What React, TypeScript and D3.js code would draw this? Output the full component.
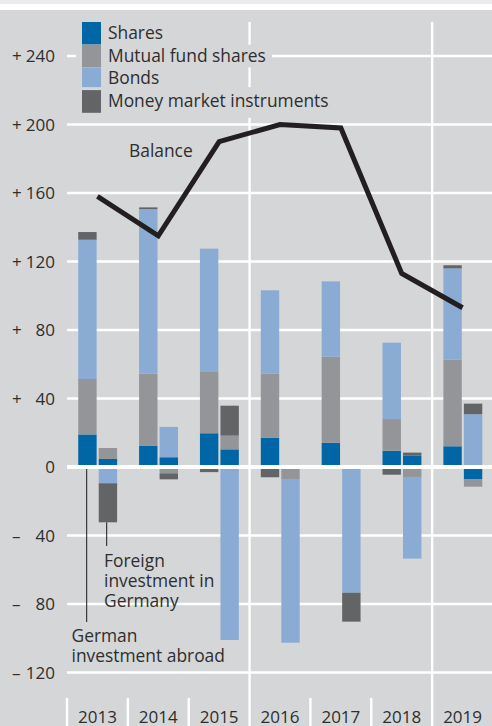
import React from 'react';
import * as d3 from 'd3';

// years on the x axis
const years = ['2013', '2014', '2015', '2016', '2017', '2018', '2019'];

// German investment abroad (left bar of each year), EUR bn
const abroadShares = [19, 12.3, 19.7, 17, 14.2, 9.5, 12.1];
const abroadFunds = [32.4, 42.2, 35.8, 37.5, 50.2, 18.5, 50.6];
const abroadBonds = [81.3, 96.1, 72, 48.7, 44, 44.6, 53.3];
const abroadMoney = [4.5, 1, -3, -6, -1, -4.5, 1.8];

// foreign investment in Germany (right bar of each year)
const foreignShares = [4.7, 5.7, 10.3, 0, 0, 6.6, -7];
const foreignFunds = [6.4, -3.7, 8, -7, -1, -5.8, -4.5];
const foreignBonds = [-9.5, 17.7, -101, -95.6, -72.4, -47.7, 30.8];
const foreignMoney = [-22.8, -3.5, 17.5, 0, -16.9, 1.8, 6.2];

// balance line
const balance = [158, 135, 190, 200, 198, 113, 93];

const yTicks = [-120, -80, -40, 0, 40, 80, 120, 160, 200, 240];

const seriesNames = ['Shares', 'Mutual fund shares', 'Bonds', 'Money market instruments'];
const seriesColors = ['#0066a6', '#939598', '#8aabd3', '#636466'];

const W = 492;
const H = 726;
const BG = '#d5d6d8';
const TEXT = '#2e2e2e';
const FONT = '"Open Sans", "Noto Sans", sans-serif';
const FS = 17.4;

export default function App() {
  const x = d3.scaleBand<string>().domain(years).range([67, 493]).paddingInner(0).paddingOuter(0);
  const y = d3.scaleLinear().domain([-120, 240]).range([672.5, 56]);
  const cx = (yr: string) => (x(yr) as number) + x.bandwidth() / 2;

  const keys = ['s', 'f', 'b', 'm'];
  const makeRows = (a: number[], b: number[], c: number[], d: number[]) =>
    years.map((yr, i) => ({ year: yr, s: a[i], f: b[i], b: c[i], m: d[i] }));
  const stack = d3.stack<any>().keys(keys).offset(d3.stackOffsetDiverging);
  const abroadStack = stack(makeRows(abroadShares, abroadFunds, abroadBonds, abroadMoney));
  const foreignStack = stack(makeRows(foreignShares, foreignFunds, foreignBonds, foreignMoney));

  const barW = 18.4;
  const groups = [
    { data: abroadStack, off: -19.2 },
    { data: foreignStack, off: 1.3 },
  ];

  const line = d3
    .line<number>()
    .x((_, i) => cx(years[i]))
    .y((d) => y(d));

  const legendRows = [
    { y: 22, w: 60 },
    { y: 44.7, w: 164 },
    { y: 67.4, w: 56 },
    { y: 90.1, w: 226 },
  ];

  return (
    <svg width={W} height={H} style={{ position: 'absolute', left: 0, top: 0 }} fontFamily={FONT}>
      <rect x={0} y={0} width={W} height={H} fill="#ffffff" />
      <rect x={0} y={0} width={W} height={4} fill="#ebebed" />
      <rect x={0} y={10} width={W} height={H - 10} fill={BG} />

      {/* horizontal gridlines */}
      {yTicks.map((t) => (
        <line key={t} x1={67} x2={W} y1={y(t)} y2={y(t)} stroke="#fff" strokeWidth={t === 0 ? 0 : 2.6} />
      ))}
      {/* vertical separators */}
      {['2016', '2019'].map((yr) => (
        <line key={yr} x1={x(yr)} x2={x(yr)} y1={22} y2={H} stroke="#fff" strokeWidth={2.4} />
      ))}
      {/* year ticks at the bottom */}
      {['2013', '2014', '2015', '2017', '2018'].map((yr) => (
        <line key={yr} x1={x(yr)} x2={x(yr)} y1={698} y2={H} stroke="#fff" strokeWidth={2.4} />
      ))}

      {/* legend */}
      {legendRows.map((r, i) => (
        <g key={seriesNames[i]}>
          <rect x={76} y={r.y - (i === 3 ? 3 : 0)} width={32 + r.w} height={22.7 + (i === 3 ? 8 : 0)} fill={BG} />
          <rect x={82} y={r.y} width={19} height={22.7} fill={seriesColors[i]} />
          <text x={108} y={r.y + 17} fontSize={FS} fill={TEXT}>
            {seriesNames[i]}
          </text>
        </g>
      ))}

      {/* leader line for German investment abroad */}
      <line x1={86.7} x2={86.7} y1={440} y2={622} stroke="#1a1a1a" strokeWidth={1} />

      {/* bars */}
      {groups.map((g, gi) =>
        g.data.map((layer, li) =>
          layer.map((d, i) => {
            const y0 = y(d[0]);
            const y1 = y(d[1]);
            if (Math.abs(y0 - y1) < 0.01) return null;
            return (
              <rect
                key={`${gi}-${li}-${i}`}
                x={cx(years[i]) + g.off}
                y={Math.min(y0, y1)}
                width={barW}
                height={Math.abs(y0 - y1)}
                fill={seriesColors[li]}
              />
            );
          })
        )
      )}

      {/* zero line */}
      <line x1={67} x2={W} y1={y(0)} y2={y(0)} stroke="#fff" strokeWidth={4} />

      {/* leader line for foreign investment */}
      <line x1={106.7} x2={106.7} y1={y(-32.3)} y2={546} stroke="#1a1a1a" strokeWidth={1} />

      {/* balance line */}
      <path d={line(balance) || ''} fill="none" stroke="#231f20" strokeWidth={5} strokeLinejoin="miter" />

      {/* y labels */}
      {yTicks.map((t) => (
        <g key={t} fontSize={17} fill={TEXT}>
          {t !== 0 && (
            <text x={12} y={y(t) + 6}>
              {t > 0 ? '+' : '–'}
            </text>
          )}
          <text x={55} y={y(t) + 6} textAnchor="end">
            {Math.abs(t)}
          </text>
        </g>
      ))}

      {/* x labels */}
      {years.map((yr) => (
        <text key={yr} x={cx(yr)} y={723} textAnchor="middle" fontSize={17} fill={TEXT}>
          {yr}
        </text>
      ))}

      {/* annotations */}
      <text x={129} y={157} fontSize={FS} fill={TEXT}>
        Balance
      </text>
      <text fontSize={FS} fill={TEXT}>
        <tspan x={104} y={567}>Foreign</tspan>
        <tspan x={104} y={587}>investment in</tspan>
        <tspan x={104} y={607}>Germany</tspan>
      </text>
      <text fontSize={FS} fill={TEXT}>
        <tspan x={71.5} y={642}>German</tspan>
        <tspan x={71.5} y={662}>investment abroad</tspan>
      </text>
    </svg>
  );
}
